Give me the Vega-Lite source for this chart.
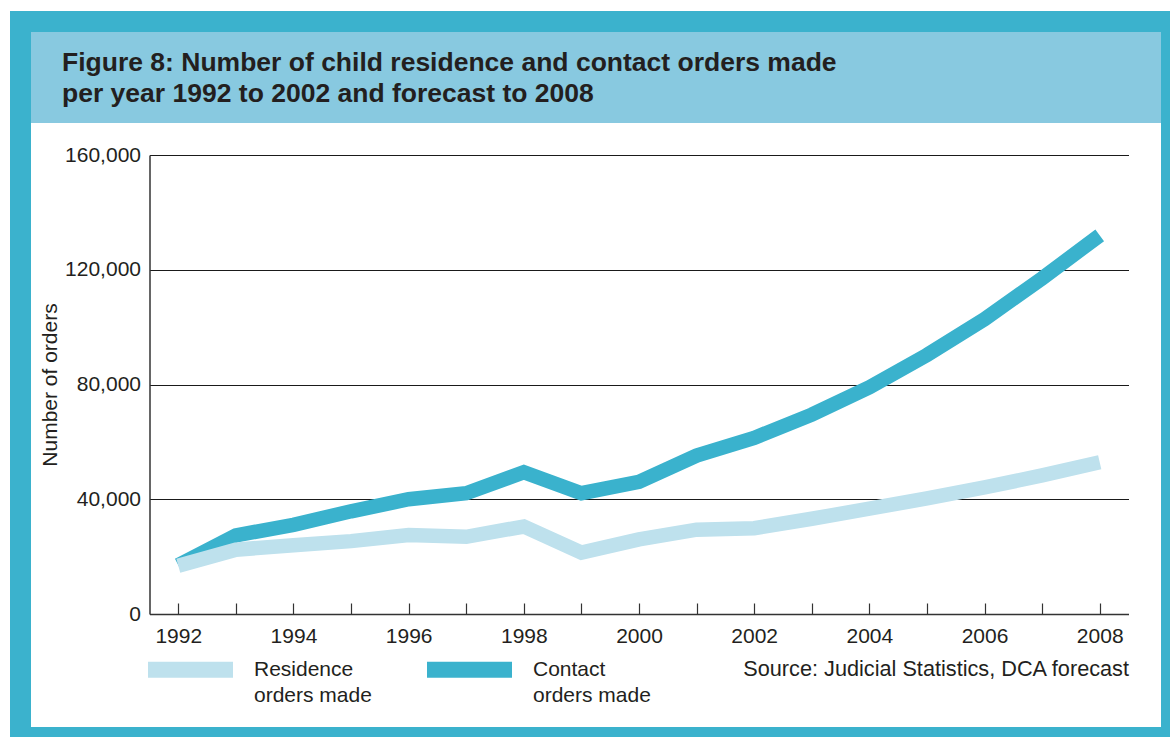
{
  "$schema": "https://vega.github.io/schema/vega-lite/v6.json",
  "background": "#3bb2cd",
  "padding": 0,
  "spacing": 0,
  "bounds": "flush",
  "config": {
    "font": "Liberation Sans",
    "view": {"stroke": null},
    "concat": {"spacing": 0}
  },
  "hconcat": [
    {
      "width": 10,
      "height": 737,
      "view": {"fill": "#ffffff", "stroke": null},
      "data": {"values": [{"t": ""}]},
      "mark": {"type": "text", "text": "", "fontSize": 1, "baseline": "top", "align": "left"}
    },
    {
      "spacing": 21,
      "bounds": "flush",
      "vconcat": [
        {
          "width": 1160,
          "height": 11,
          "view": {"fill": "#ffffff", "stroke": null},
          "data": {"values": [{"t": ""}]},
          "mark": {"type": "text", "text": "", "fontSize": 1, "baseline": "top", "align": "left"}
        },
        {
          "spacing": 20,
          "bounds": "flush",
          "hconcat": [
            {
              "width": 1,
              "height": 695,
              "view": {"fill": "#3bb2cd", "stroke": null},
              "data": {"values": [{"t": ""}]},
              "mark": {"type": "text", "text": "", "fontSize": 1, "baseline": "top", "align": "left"}
            },
            {
              "spacing": 0,
              "bounds": "flush",
              "vconcat": [
                {
                  "width": 1130,
                  "height": 91,
                  "view": {"fill": "#88c9e0", "stroke": null},
                  "data": {"values": [{"t": ""}]},
                  "mark": {"type": "text", "text": "", "fontSize": 1, "baseline": "top", "align": "left"}
                },
                {
                  "width": 1130,
                  "height": 604,
                  "view": {"fill": "#ffffff", "stroke": null},
                  "title": {
                    "text": ["Figure 8: Number of child residence and contact orders made", "per year 1992 to 2002 and forecast to 2008"],
                    "anchor": "start",
                    "frame": "group",
                    "orient": "top",
                    "fontSize": 26.5,
                    "fontWeight": "bold",
                    "color": "#231f20",
                    "lineHeight": 31,
                    "dx": 31,
                    "offset": 16
                  },
                  "data": {
                    "values": [
                      {"year": 1992, "series": "Contact orders made", "orders": 17000},
                      {"year": 1993, "series": "Contact orders made", "orders": 27400},
                      {"year": 1994, "series": "Contact orders made", "orders": 31100},
                      {"year": 1995, "series": "Contact orders made", "orders": 35800},
                      {"year": 1996, "series": "Contact orders made", "orders": 40000},
                      {"year": 1997, "series": "Contact orders made", "orders": 42100},
                      {"year": 1998, "series": "Contact orders made", "orders": 49400},
                      {"year": 1999, "series": "Contact orders made", "orders": 42100},
                      {"year": 2000, "series": "Contact orders made", "orders": 46100},
                      {"year": 2001, "series": "Contact orders made", "orders": 55200},
                      {"year": 2002, "series": "Contact orders made", "orders": 61400},
                      {"year": 2003, "series": "Contact orders made", "orders": 69500},
                      {"year": 2004, "series": "Contact orders made", "orders": 79000},
                      {"year": 2005, "series": "Contact orders made", "orders": 90300},
                      {"year": 2006, "series": "Contact orders made", "orders": 102800},
                      {"year": 2007, "series": "Contact orders made", "orders": 117000},
                      {"year": 2008, "series": "Contact orders made", "orders": 132000},
                      {"year": 1992, "series": "Residence orders made", "orders": 16800},
                      {"year": 1993, "series": "Residence orders made", "orders": 22400},
                      {"year": 1994, "series": "Residence orders made", "orders": 24000},
                      {"year": 1995, "series": "Residence orders made", "orders": 25400},
                      {"year": 1996, "series": "Residence orders made", "orders": 27500},
                      {"year": 1997, "series": "Residence orders made", "orders": 26900},
                      {"year": 1998, "series": "Residence orders made", "orders": 30500},
                      {"year": 1999, "series": "Residence orders made", "orders": 21400},
                      {"year": 2000, "series": "Residence orders made", "orders": 26000},
                      {"year": 2001, "series": "Residence orders made", "orders": 29400},
                      {"year": 2002, "series": "Residence orders made", "orders": 29900},
                      {"year": 2003, "series": "Residence orders made", "orders": 33200},
                      {"year": 2004, "series": "Residence orders made", "orders": 36700},
                      {"year": 2005, "series": "Residence orders made", "orders": 40300},
                      {"year": 2006, "series": "Residence orders made", "orders": 44100},
                      {"year": 2007, "series": "Residence orders made", "orders": 48300},
                      {"year": 2008, "series": "Residence orders made", "orders": 52900}
                    ]
                  },
                  "mark": {"type": "line", "strokeWidth": 14.5, "strokeCap": "butt", "strokeJoin": "miter"},
                  "encoding": {
                    "x": {
                      "field": "year",
                      "type": "quantitative",
                      "scale": {"domain": [1991.5, 2008.5], "range": [118.5, 1097.5], "nice": false, "zero": false},
                      "axis": {
                        "orient": "bottom",
                        "offset": -113,
                        "values": [1992, 1993, 1994, 1995, 1996, 1997, 1998, 1999, 2000, 2001, 2002, 2003, 2004, 2005, 2006, 2007, 2008],
                        "labelExpr": "datum.value % 2 === 0 ? '' + datum.value : ''",
                        "labelOverlap": false,
                        "labelFontSize": 21,
                        "labelColor": "#231f20",
                        "labelPadding": 22,
                        "ticks": true,
                        "tickSize": -11,
                        "tickColor": "#333333",
                        "tickWidth": 1.2,
                        "domainColor": "#333333",
                        "domainWidth": 1.5,
                        "grid": false,
                        "title": "Source: Judicial Statistics, DCA forecast",
                        "titleAnchor": "end",
                        "titleFontSize": 21.7,
                        "titleFontWeight": "normal",
                        "titleColor": "#231f20",
                        "titlePadding": 12
                      }
                    },
                    "y": {
                      "field": "orders",
                      "type": "quantitative",
                      "scale": {"domain": [0, 160000], "range": [491, 32], "nice": false},
                      "axis": {
                        "orient": "left",
                        "offset": -118.5,
                        "values": [0, 40000, 80000, 120000, 160000],
                        "format": ",.0f",
                        "labelFontSize": 21,
                        "labelColor": "#231f20",
                        "labelPadding": 9,
                        "ticks": false,
                        "domainColor": "#333333",
                        "domainWidth": 1.5,
                        "grid": true,
                        "gridColor": "#1a1a1a",
                        "gridWidth": 1.2,
                        "title": "Number of orders",
                        "titleFontSize": 21,
                        "titleFontWeight": "normal",
                        "titleColor": "#231f20",
                        "titlePadding": 4
                      }
                    },
                    "color": {
                      "field": "series",
                      "type": "nominal",
                      "scale": {"domain": ["Residence orders made", "Contact orders made"], "range": ["#bee1ed", "#3ab2cd"]},
                      "legend": {
                        "orient": "none",
                        "legendX": 140,
                        "legendY": 619,
                        "direction": "horizontal",
                        "title": null,
                        "padding": 0,
                        "symbolType": "stroke",
                        "symbolSize": 7225,
                        "symbolStrokeWidth": 16,
                        "labelFontSize": 21,
                        "labelColor": "#231f20",
                        "labelOffset": 13,
                        "columnPadding": 23,
                        "labelLimit": 400,
                        "labelExpr": "[slice(datum.label, 0, indexof(datum.label, ' ')), slice(datum.label, indexof(datum.label, ' ') + 1)]",
                        "encode": {"labels": {"update": {"lineHeight": {"value": 26}}}}
                      }
                    }
                  }
                }
              ]
            }
          ]
        }
      ]
    }
  ]
}
